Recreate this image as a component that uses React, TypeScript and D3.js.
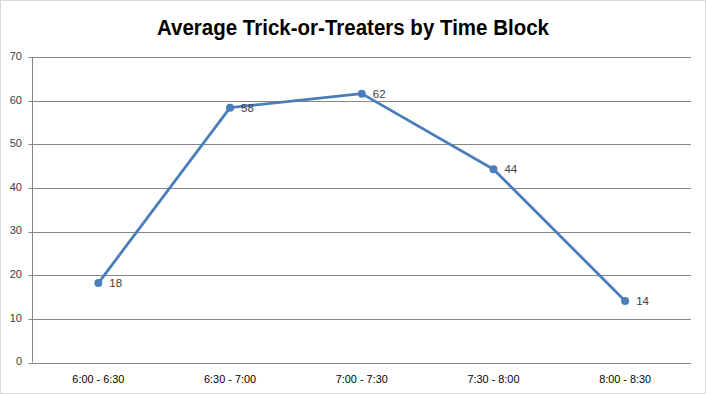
import React from 'react';
import * as d3 from 'd3';

const categories = ['6:00 - 6:30', '6:30 - 7:00', '7:00 - 7:30', '7:30 - 8:00', '8:00 - 8:30'];
const values = [18.2, 58.4, 61.6, 44.3, 14.1];
const yTicks = [0, 10, 20, 30, 40, 50, 60, 70];
const title = 'Average Trick-or-Treaters by Time Block';

const W = 706;
const H = 394;
const margin = { top: 57, right: 15, bottom: 31.5, left: 32.5 };

const labelFont = '"Liberation Sans", Arial, sans-serif';

export default function App() {
  const x = d3.scaleBand<string>()
    .domain(categories)
    .range([margin.left, W - margin.right]);

  const y = d3.scaleLinear()
    .domain([0, 70])
    .range([H - margin.bottom, margin.top]);

  const cx = (c: string) => (x(c) ?? 0) + x.bandwidth() / 2;

  const line = d3.line<number>()
    .x((_, i) => cx(categories[i]))
    .y(d => y(d));

  return (
    <svg width={W} height={H} style={{ position: 'absolute', left: 0, top: 0, background: '#fff' }}>
      <rect x={0.5} y={0.5} width={W - 1} height={H - 1} fill="#fff" stroke="#d9d9d9" />
      <text x={353} y={35} textAnchor="middle" fontFamily={labelFont} fontWeight="bold" fontSize={22}
        textLength={392} lengthAdjust="spacingAndGlyphs" fill="#000">
        {title}
      </text>

      {/* gridlines and y axis labels */}
      {yTicks.map(t => (
        <g key={t}>
          <line x1={margin.left - 4} x2={W - margin.right} y1={Math.round(y(t)) + 0.5} y2={Math.round(y(t)) + 0.5}
            stroke="#868686" strokeWidth={1} />
          <text x={22} y={y(t)} textAnchor="end" dominantBaseline="middle" fontFamily={labelFont} fontSize={11} fill="#404040">
            {t}
          </text>
        </g>
      ))}
      <line x1={margin.left} x2={margin.left} y1={y(70)} y2={y(0)} stroke="#868686" />

      {/* category labels */}
      {categories.map(c => (
        <text key={c} x={cx(c)} y={380} textAnchor="middle" dominantBaseline="middle" fontFamily={labelFont} fontSize={11}
          textLength={52} lengthAdjust="spacingAndGlyphs" fill="#000">
          {c}
        </text>
      ))}

      <path d={line(values) ?? ''} fill="none" stroke="#4a7ebb" strokeWidth={2.8} strokeLinejoin="round" />
      {values.map((v, i) => (
        <g key={i}>
          <circle cx={cx(categories[i])} cy={y(v)} r={4} fill="#4a7ebb" />
          <text x={cx(categories[i]) + 11} y={y(v) + 1} dominantBaseline="middle" fontFamily={labelFont} fontSize={11.5} fill="#404040">
            {d3.format('.0f')(v)}
          </text>
        </g>
      ))}
    </svg>
  );
}
